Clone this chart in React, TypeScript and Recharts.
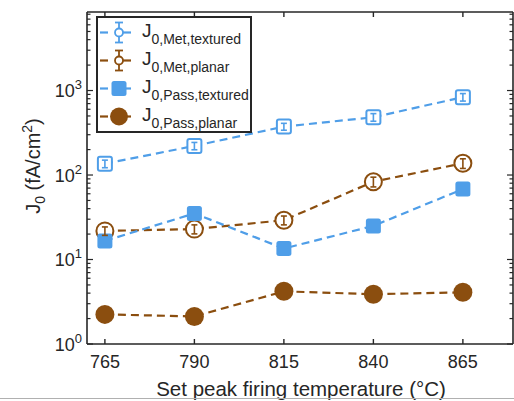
import React from 'react';
import { LineChart, Line, XAxis, YAxis, ErrorBar } from 'recharts';

// ---------- data ----------
const temperatures = [765, 790, 815, 840, 865];
const metTextured = [136, 221, 374, 483, 835];
const metTexturedErr = [14, 22, 35, 50, 85];
const metPlanar = [21.8, 22.9, 29.2, 83.3, 137.6];
const metPlanarErr = [2.5, 2.8, 3.5, 11, 18];
const passTextured = [16.6, 35.1, 13.5, 25.0, 68.2];
const passPlanar = [2.24, 2.12, 4.2, 3.88, 4.09];

const xTicks = [765, 790, 815, 840, 865];
const yMajorTicks = [1, 10, 100, 1000];
const yMajorLabels = ['0', '1', '2', '3'];
const yMinorTicks = [
  2, 3, 4, 5, 6, 7, 8, 9,
  20, 30, 40, 50, 60, 70, 80, 90,
  200, 300, 400, 500, 600, 700, 800, 900,
  2000, 3000, 4000, 5000, 6000, 7000, 8000,
];
const yAllTicks = [...yMajorTicks, ...yMinorTicks].sort((a, b) => a - b);

const legendSubs = ['0,Met,textured', '0,Met,planar', '0,Pass,textured', '0,Pass,planar'];
const xTitle = 'Set peak firing temperature (°C)';

const rows = temperatures.map((t, i) => ({
  t,
  metTextured: metTextured[i],
  metTexturedErr: metTexturedErr[i],
  metPlanar: metPlanar[i],
  metPlanarErr: metPlanarErr[i],
  passTextured: passTextured[i],
  passPlanar: passPlanar[i],
}));

// ---------- style ----------
const BLUE = '#4F9EE8';
const BROWN = '#8B4E0F';
const AXIS = '#262626';
const FONT = '"Liberation Sans", Arial, Helvetica, sans-serif';
const X_DOMAIN: [number, number] = [760, 879];
const Y_DOMAIN: [number, number] = [1, 8500];
const DASH = '8 5';

// ---------- ticks ----------
function LeftTick(props: any) {
  const { x, y, payload } = props;
  const v = payload.value;
  const ax = x + 5;
  const mi = yMajorTicks.indexOf(v);
  const major = mi >= 0;
  return (
    <g>
      <line x1={ax} x2={ax + (major ? 6 : 3.5)} y1={y} y2={y} stroke={AXIS} strokeWidth={1.2} />
      {major && (
        <text x={x} y={y + 6.5} textAnchor="end" fontSize={18} fill={AXIS} fontFamily={FONT}>
          10
          <tspan dy={-8} fontSize={13}>{yMajorLabels[mi]}</tspan>
        </text>
      )}
    </g>
  );
}

function RightTick(props: any) {
  const { x, y, payload } = props;
  const major = yMajorTicks.indexOf(payload.value) >= 0;
  return <line x1={x} x2={x - (major ? 6 : 3.5)} y1={y} y2={y} stroke={AXIS} strokeWidth={1.2} />;
}

function BottomTick(props: any) {
  const { x, y, payload } = props;
  return (
    <g>
      <line x1={x} x2={x} y1={y} y2={y - 5} stroke={AXIS} strokeWidth={1.4} />
      <text x={x} y={y + 24} textAnchor="middle" fontSize={18} fill={AXIS} fontFamily={FONT}>
        {payload.value}
      </text>
    </g>
  );
}

function TopTick(props: any) {
  const { x, y } = props;
  return <line x1={x} x2={x} y1={y} y2={y + 5} stroke={AXIS} strokeWidth={1.4} />;
}

// ---------- markers ----------
const openSquare = (p: any) => (
  <rect key={`os${p.index}`} x={p.cx - 7} y={p.cy - 7} width={14} height={14} rx={2}
    fill="#fff" stroke={BLUE} strokeWidth={2} />
);
const openCircle = (p: any) => (
  <circle key={`oc${p.index}`} cx={p.cx} cy={p.cy} r={8.5} fill="#fff" stroke={BROWN} strokeWidth={2} />
);
const filledSquare = (p: any) => (
  <rect key={`fs${p.index}`} x={p.cx - 7.5} y={p.cy - 7.5} width={15} height={15} rx={2.5} fill={BLUE} />
);
const filledCircle = (p: any) => (
  <circle key={`fc${p.index}`} cx={p.cx} cy={p.cy} r={9.5} fill={BROWN} />
);

// ---------- legend ----------
function LegendIcon({ i, cy }: { i: number; cy: number }) {
  const color = i === 0 || i === 2 ? BLUE : BROWN;
  const cx = 23;
  return (
    <g>
      <line x1={4} x2={12} y1={cy} y2={cy} stroke={color} strokeWidth={2.2} />
      <line x1={cx} x2={35} y1={cy} y2={cy} stroke={color} strokeWidth={2.2} />
      {i < 2 && (
        <g stroke={color} strokeWidth={1.8}>
          <line x1={cx} x2={cx} y1={cy - 10} y2={cy + 10} />
          <line x1={cx - 4} x2={cx + 4} y1={cy - 10} y2={cy - 10} />
          <line x1={cx - 4} x2={cx + 4} y1={cy + 10} y2={cy + 10} />
          <circle cx={cx} cy={cy} r={4} fill="#fff" />
        </g>
      )}
      {i === 2 && <rect x={cx - 7.5} y={cy - 7.5} width={15} height={15} rx={2.5} fill={BLUE} />}
      {i === 3 && <circle cx={cx} cy={cy} r={9} fill={BROWN} />}
    </g>
  );
}

function LegendBox() {
  const baselines = [20.5, 48.5, 76.5, 104.5];
  return (
    <svg width={156} height={117} style={{ position: 'absolute', left: 96, top: 16 }}>
      <rect x={1} y={1} width={154} height={115} fill="#fff" stroke={AXIS} strokeWidth={2} />
      {legendSubs.map((s, i) => (
        <g key={s}>
          <LegendIcon i={i} cy={baselines[i] - 4} />
          <text x={46} y={baselines[i]} fontSize={19} fill={AXIS} fontFamily={FONT}>
            J<tspan dy={7.5} fontSize={14}>{s}</tspan>
          </text>
        </g>
      ))}
    </svg>
  );
}

// ---------- chart ----------
export default function App() {
  return (
    <div style={{ position: 'absolute', left: 0, top: 0, width: 514, height: 401, background: '#fff' }}>
      <LineChart width={514} height={401} data={rows} margin={{ top: 0, right: 0, bottom: 0, left: 0 }}>
        <XAxis
          xAxisId="x" dataKey="t" type="number" domain={X_DOMAIN} allowDataOverflow
          ticks={xTicks} interval={0} height={57} tickSize={0} tickMargin={0} tickLine={false}
          axisLine={{ stroke: AXIS, strokeWidth: 1.6 }} tick={BottomTick}
          label={{
            content: (p: any) => {
              const vb = p.viewBox || { x: 87, y: 344, width: 426 };
              return (
                <text x={vb.x + vb.width / 2 + 1} y={vb.y + 52} textAnchor="middle" fontSize={20.5}
                  fill={AXIS} fontFamily={FONT}>{xTitle}</text>
              );
            },
          }}
        />
        <XAxis
          xAxisId="xt" orientation="top" dataKey="t" type="number" domain={X_DOMAIN} allowDataOverflow
          ticks={xTicks} interval={0} height={12} tickSize={0} tickMargin={0} tickLine={false}
          axisLine={{ stroke: AXIS, strokeWidth: 1.6 }} tick={TopTick}
        />
        <YAxis
          yAxisId="y" type="number" scale="log" domain={Y_DOMAIN} allowDataOverflow
          ticks={yAllTicks} interval={0} width={87} tickSize={0} tickMargin={5} tickLine={false}
          axisLine={{ stroke: AXIS, strokeWidth: 1.6 }} tick={LeftTick}
          label={{
            content: (p: any) => {
              const vb = p.viewBox || { x: 0, y: 12, width: 87, height: 332 };
              const cx = vb.x + 40;
              const cy = vb.y + vb.height / 2 - 12;
              return (
                <text x={cx} y={cy} transform={`rotate(-90 ${cx} ${cy})`} textAnchor="middle"
                  fontSize={20} fill={AXIS} fontFamily={FONT}>
                  J<tspan dy={5} fontSize={14}>0</tspan>
                  <tspan dy={-5}> (fA/cm</tspan>
                  <tspan dy={-8} fontSize={14}>2</tspan>
                  <tspan dy={8}>)</tspan>
                </text>
              );
            },
          }}
        />
        <YAxis
          yAxisId="yr" orientation="right" type="number" scale="log" domain={Y_DOMAIN} allowDataOverflow
          ticks={yAllTicks} interval={0} width={1} tickSize={0} tickMargin={0} tickLine={false}
          axisLine={{ stroke: AXIS, strokeWidth: 1.6 }} tick={RightTick}
        />

        <Line xAxisId="x" yAxisId="y" dataKey="metTextured" stroke={BLUE} strokeWidth={2.2}
          strokeDasharray={DASH} dot={openSquare} activeDot={false} isAnimationActive={false}>
          <ErrorBar dataKey="metTexturedErr" direction="y" width={3} stroke={BLUE} strokeWidth={1.6}
            isAnimationActive={false} {...({ zIndex: 700 } as any)} />
        </Line>

        <Line xAxisId="x" yAxisId="y" dataKey="metPlanar" stroke={BROWN} strokeWidth={2.2}
          strokeDasharray={DASH} dot={openCircle} activeDot={false} isAnimationActive={false}>
          <ErrorBar dataKey="metPlanarErr" direction="y" width={3} stroke={BROWN} strokeWidth={1.6}
            isAnimationActive={false} {...({ zIndex: 700 } as any)} />
        </Line>

        <Line xAxisId="x" yAxisId="y" dataKey="passTextured" stroke={BLUE} strokeWidth={2.2}
          strokeDasharray={DASH} dot={filledSquare} activeDot={false} isAnimationActive={false} />
        <Line xAxisId="x" yAxisId="y" dataKey="passPlanar" stroke={BROWN} strokeWidth={2.2}
          strokeDasharray={DASH} dot={filledCircle} activeDot={false} isAnimationActive={false} />
      </LineChart>
      <LegendBox />
      <div style={{ position: 'absolute', left: 0, top: 398, width: 514, height: 1, background: '#b0b0b0' }} />
    </div>
  );
}
